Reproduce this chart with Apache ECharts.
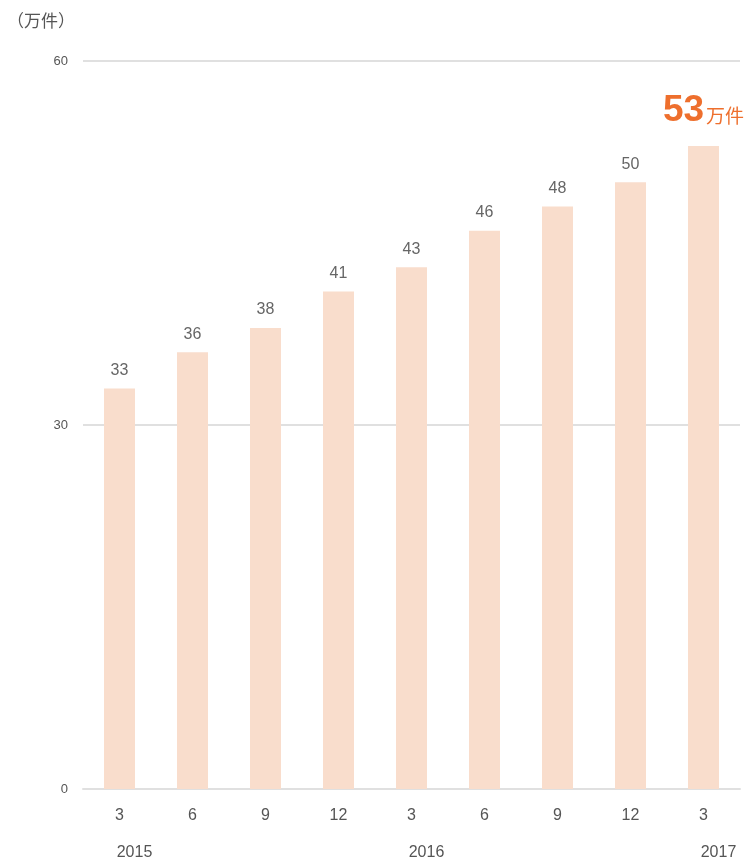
<!DOCTYPE html>
<html>
<head>
<meta charset="utf-8">
<script src="https://cdn.jsdelivr.net/npm/echarts@6/dist/echarts.min.js"></script>
<style>
html,body{margin:0;padding:0;background:#fff;}
#c{width:748px;height:861px;}
</style>
</head>
<body>
<div id="c"></div>
<script>
const months = ['3','6','9','12','3','6','9','12','3'];
const years = ['2015','','','','2016','','','','2017'];
const values = [33,36,38,41,43,46,48,50,53];
const yTicks = [0,30,60];
const unitName = '（万件）';
const unitSuffix = '万件';

const chart = echarts.init(document.getElementById('c'));
const font = 'Helvetica, Arial, "Liberation Sans", "Noto Sans CJK JP", sans-serif';
const lastIdx = values.length - 1;

chart.setOption({
  animation: false,
  title: {
    text: unitName,
    left: 2, top: 9,
    textStyle: {fontSize: 17, fontWeight: 'normal', color: '#555', fontFamily: font}
  },
  grid: {left: 83, right: 8, top: 61, bottom: 71, containLabel: false},
  xAxis: [{
    type: 'category',
    data: months,
    axisLine: {show: true, lineStyle: {color: '#e0e0e0', width: 2}},
    axisTick: {show: false},
    axisLabel: {color: '#555', fontSize: 16, margin: 19, fontFamily: font}
  }, {
    type: 'category',
    data: years,
    position: 'bottom',
    offset: 38,
    axisLine: {show: false},
    axisTick: {show: false},
    axisLabel: {color: '#555', fontSize: 16, margin: 18, fontFamily: font, interval: 0,
      padding: [0, 0, 0, 30]}
  }],
  yAxis: {
    type: 'value',
    min: yTicks[0], max: yTicks[yTicks.length - 1], interval: 30,
    axisLine: {show: false},
    axisTick: {show: false},
    axisLabel: {color: '#555', fontSize: 13, margin: 15, fontFamily: font},
    splitLine: {lineStyle: {color: '#e0e0e0', width: 2}}
  },
  series: [{
    type: 'bar',
    xAxisIndex: 0,
    barWidth: 31,
    data: values.map((v, i) => ({
      value: v,
      label: i === lastIdx ? {
        show: true, position: 'top', distance: 17,
        formatter: '{a|' + v + '}{b|' + unitSuffix + '}',
        rich: {
          a: {fontSize: 37, fontWeight: 'bold', color: '#ee6f2d', fontFamily: font, verticalAlign: 'bottom', lineHeight: 40},
          b: {fontSize: 19, color: '#ee6f2d', fontFamily: font, verticalAlign: 'bottom', lineHeight: 30, padding: [0,0,2,2]}
        }
      } : undefined
    })),
    itemStyle: {color: '#f9ddcc'},
    label: {show: true, position: 'top', distance: 10, color: '#666', fontSize: 16, fontFamily: font}
  }]
});
</script>
</body>
</html>
